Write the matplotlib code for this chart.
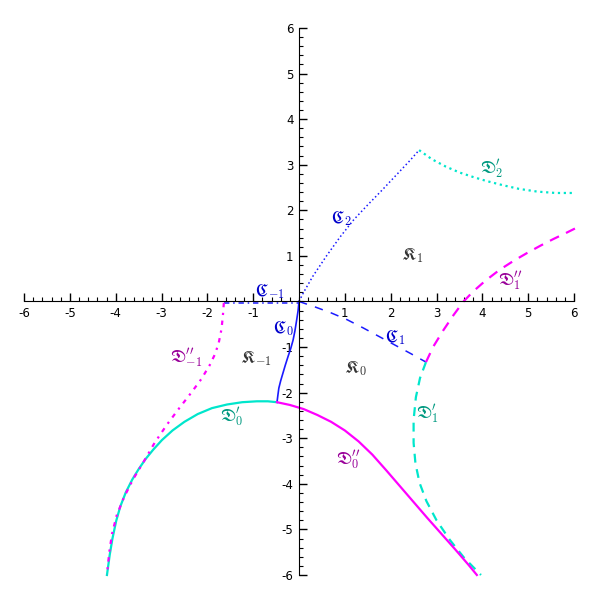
import matplotlib
matplotlib.use("Agg")
import matplotlib.pyplot as plt
from matplotlib.ticker import FixedLocator, MultipleLocator

plt.rcParams['axes.unicode_minus'] = False
plt.rcParams['mathtext.fontset'] = 'cm'

# ---- data ----
c_m1_x = [-1.64, -1.2, -0.8, -0.4, 0.0]
c_m1_y = [-0.03, -0.03, -0.03, -0.03, -0.03]

c0_x = [0.0, -0.02, -0.05, -0.09, -0.13, -0.18, -0.24, -0.30, -0.35, -0.40, -0.44, -0.46, -0.48]
c0_y = [0.0, -0.2, -0.4, -0.65, -0.85, -1.03, -1.21, -1.40, -1.57, -1.74, -1.90, -2.05, -2.21]

c1_x = [0.0, 0.35, 0.7, 1.05, 1.4, 1.75, 2.1, 2.45, 2.77]
c1_y = [0.0, -0.12, -0.25, -0.40, -0.58, -0.77, -0.96, -1.15, -1.33]

c2_x = [0.0, 0.1, 0.3, 0.6, 0.9, 1.2, 1.5, 1.8, 2.1, 2.4, 2.62]
c2_y = [0.0, 0.2, 0.55, 1.0, 1.42, 1.8, 2.12, 2.43, 2.75, 3.07, 3.32]

d2p_x = [2.62, 2.9, 3.2, 3.5, 3.8, 4.1, 4.45, 4.8, 5.2, 5.6, 6.02]
d2p_y = [3.32, 3.12, 2.96, 2.83, 2.73, 2.64, 2.55, 2.47, 2.41, 2.38, 2.38]

d1pp_x = [2.77, 2.93, 3.15, 3.37, 3.59, 3.80, 4.06, 4.37, 4.68, 4.97, 5.26, 5.55, 5.84, 6.02]
d1pp_y = [-1.33, -0.99, -0.63, -0.30, 0.0, 0.22, 0.45, 0.69, 0.89, 1.06, 1.22, 1.37, 1.51, 1.60]

d1p_x = [2.77, 2.64, 2.55, 2.50, 2.50, 2.54, 2.63, 2.78, 3.0, 3.29, 3.60, 3.97]
d1p_y = [-1.33, -1.68, -2.10, -2.60, -3.10, -3.55, -3.98, -4.38, -4.80, -5.23, -5.62, -6.0]

d0p_x = [-4.19, -4.13, -4.07, -3.99, -3.90, -3.78, -3.64, -3.50, -3.35, -3.18, -2.99, -2.76,
         -2.50, -2.21, -1.90, -1.57, -1.24, -0.92, -0.68, -0.48]
d0p_y = [-6.0, -5.56, -5.20, -4.82, -4.50, -4.19, -3.91, -3.68, -3.46, -3.25, -3.04, -2.83,
         -2.64, -2.47, -2.34, -2.26, -2.21, -2.19, -2.19, -2.21]

d0pp_x = [-0.48, -0.2, 0.1, 0.4, 0.7, 1.0, 1.3, 1.6, 1.9, 2.2, 2.5, 2.8, 3.1, 3.4, 3.7, 3.88]
d0pp_y = [-2.21, -2.27, -2.36, -2.49, -2.64, -2.83, -3.07, -3.36, -3.70, -4.05, -4.40, -4.75,
          -5.09, -5.43, -5.78, -6.0]

dm1pp_x = [-1.64, -1.66, -1.69, -1.75, -1.83, -1.95, -2.13, -2.35, -2.62, -2.88, -3.15, -3.38,
           -3.62, -3.82, -3.98, -4.08, -4.14, -4.19]
dm1pp_y = [-0.03, -0.3, -0.6, -0.9, -1.15, -1.4, -1.7, -2.0, -2.35, -2.7, -3.1, -3.5,
           -3.9, -4.3, -4.7, -5.1, -5.5, -6.0]

labels = [r'$\mathfrak{C}_{-1}$', r'$\mathfrak{C}_{0}$', r'$\mathfrak{C}_{1}$', r'$\mathfrak{C}_{2}$',
          r'$\mathfrak{K}_{1}$', r'$\mathfrak{K}_{-1}$', r'$\mathfrak{K}_{0}$',
          r"$\mathfrak{D}_{2}^{\prime}$", r"$\mathfrak{D}_{1}^{\prime\prime}$",
          r"$\mathfrak{D}_{-1}^{\prime\prime}$",
          r"$\mathfrak{D}_{0}^{\prime}$", r"$\mathfrak{D}_{0}^{\prime\prime}$",
          r"$\mathfrak{D}_{1}^{\prime}$"]
label_x = [-0.63, -0.33, 2.1, 0.92, 2.47, -0.94, 1.24, 4.21, 4.6, -2.45, -1.46, 1.07, 2.81]
label_y = [0.21, -0.6, -0.78, 1.81, 1.0, -1.26, -1.48, 2.9, 0.43, -1.26, -2.55, -3.48, -2.47]
label_kind = ['C', 'C', 'C', 'C', 'K', 'K', 'K', 'Dp', 'Dpp', 'Dpp', 'Dp', 'Dpp', 'Dp']

xticks = [-6, -5, -4, -3, -2, -1, 1, 2, 3, 4, 5, 6]
yticks = [-6, -5, -4, -3, -2, -1, 1, 2, 3, 4, 5, 6]

# ---- styles ----
BLUE = '#1a1aff'
CYAN = '#00e6cc'
MAG = '#ff00ff'
label_colors = {'C': '#0000cc', 'K': '#333333', 'Dp': '#009980', 'Dpp': '#990099'}

fig = plt.figure(figsize=(6, 6), dpi=100)
ax = fig.add_axes([0.04, 0.0417, 0.9167, 0.9117])

ax.plot(c_m1_x, c_m1_y, color=BLUE, lw=1.1, dashes=(3.5, 2.5, 1, 2.5), clip_on=False)
ax.plot(c0_x, c0_y, color=BLUE, lw=1.2, ls='-', clip_on=False)
ax.plot(c1_x, c1_y, color=BLUE, lw=1.1, dashes=(5.5, 5.5), clip_on=False)
ax.plot(c2_x, c2_y, color=BLUE, lw=1.1, ls=':', clip_on=False)

ax.plot(d2p_x, d2p_y, color=CYAN, lw=1.6, ls=':', clip_on=False)
ax.plot(d1p_x, d1p_y, color=CYAN, lw=1.6, dashes=(4, 3), clip_on=False)
ax.plot(d0p_x, d0p_y, color=CYAN, lw=1.6, ls='-', clip_on=False)

ax.plot(d1pp_x, d1pp_y, color=MAG, lw=1.6, dashes=(4.5, 3.5), clip_on=False)
ax.plot(d0pp_x, d0pp_y, color=MAG, lw=1.6, ls='-', clip_on=False)
ax.plot(dm1pp_x, dm1pp_y, color=MAG, lw=1.6, dashes=(2, 2.5, 1, 2.5), clip_on=False)

for t, x, y, k in zip(labels, label_x, label_y, label_kind):
    ax.text(x, y, t, color=label_colors[k], fontsize=12.5, ha='center', va='center')

ax.set_xlim(-6, 6)
ax.set_ylim(-6, 6)
for s in ['top', 'right']:
    ax.spines[s].set_visible(False)
ax.spines['left'].set_position(('data', 0))
ax.spines['bottom'].set_position(('data', 0))
ax.xaxis.set_major_locator(FixedLocator(xticks))
ax.yaxis.set_major_locator(FixedLocator(yticks))
ax.xaxis.set_minor_locator(MultipleLocator(0.2))
ax.yaxis.set_minor_locator(MultipleLocator(0.2))
ax.set_xticklabels([str(v) for v in xticks])
ax.set_yticklabels([str(v) for v in yticks])
ax.tick_params(which='major', direction='in', length=6, width=1, labelsize=8.5, pad=4)
ax.tick_params(which='minor', direction='in', length=3, width=0.8)
ax.patch.set_visible(False)

fig.savefig('out.png', dpi=100)
